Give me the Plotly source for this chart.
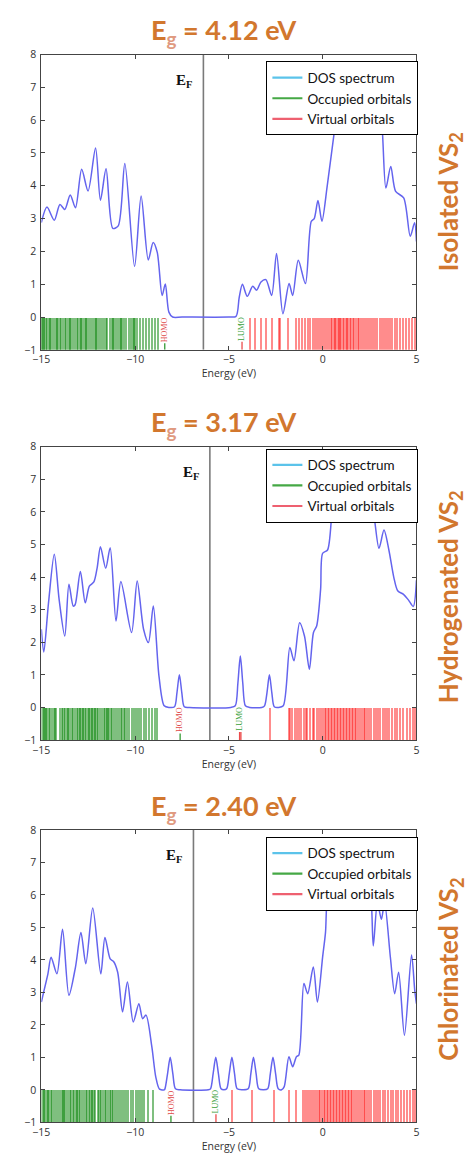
import plotly.graph_objects as go

# ---------------- data ----------------
titles = ["4.12", "3.17", "2.40"]
side_labels = ["Isolated VS<sub>2</sub>", "Hydrogenated VS<sub>2</sub>", "Chlorinated VS<sub>2</sub>"]
homo = [-8.42, -7.60, -8.09]
lumo = [-4.30, -4.43, -5.69]
lumo_extra = [[], [-4.36], []]

# DOS spectra (energy in eV, DOS)
dos_iso_e = [-15.00, -14.70, -14.31, -14.01, -13.75, -13.46, -13.18, -12.85, -12.51, -12.11,
             -11.85, -11.55, -11.19, -10.90, -10.55, -10.03, -9.68, -9.30, -9.04, -8.82,
             -8.56, -8.39, -8.20, -8.00, -7.50, -5.00, -4.62, -4.45, -4.28, -4.02,
             -3.73, -3.52, -3.29, -3.03, -2.72, -2.46, -2.12, -1.79, -1.60, -1.30,
             -0.92, -0.61, -0.45, -0.25, -0.04, 0.25, 0.69, 0.90, 1.20, 1.50,
             1.80, 1.97, 2.10, 2.25, 2.40, 2.55, 2.80, 3.10, 3.37, 3.63,
             3.89, 4.32, 4.67, 4.90, 5.00]
dos_iso_d = [2.88, 3.35, 2.95, 3.43, 3.28, 3.72, 3.33, 4.50, 3.84, 5.15,
             3.56, 4.52, 2.70, 2.78, 4.68, 1.54, 3.69, 1.74, 2.27, 1.97,
             0.66, 1.01, 0.15, 0.00, 0.00, 0.00, 0.02, 0.60, 1.00, 0.63,
             0.94, 0.82, 1.07, 1.14, 0.66, 1.94, 0.10, 1.02, 0.66, 1.73,
             1.02, 2.91, 3.00, 3.55, 2.92, 4.03, 5.95, 6.80, 7.30, 6.90,
             6.60, 6.00, 5.65, 5.90, 5.60, 6.10, 6.90, 6.30, 3.93, 4.59,
             3.83, 3.63, 2.46, 2.87, 2.30]

dos_hyd_e = [-15.00, -14.87, -14.62, -14.31, -14.05, -13.75, -13.53, -13.30, -13.20, -12.92,
             -12.66, -12.44, -12.20, -12.02, -11.85, -11.57, -11.33, -11.02, -10.76, -10.19,
             -9.89, -9.55, -9.29, -9.03, -8.73, -8.45, -8.20, -7.90, -7.77, -7.64,
             -7.51, -7.38, -7.10, -4.90, -4.66, -4.52, -4.39, -4.26, -4.12, -3.90,
             -3.25, -3.10, -2.97, -2.84, -2.71, -2.58, -2.35, -2.10, -1.75, -1.53,
             -1.23, -0.97, -0.71, -0.49, -0.32, -0.11, 0.00, 0.26, 0.50, 0.65,
             0.84, 1.02, 1.19, 1.40, 1.70, 1.97, 2.20, 2.45, 2.66, 3.00,
             3.27, 3.53, 3.79, 4.00, 4.31, 4.57, 4.83, 5.00]
dos_hyd_d = [2.40, 1.70, 3.20, 4.70, 3.30, 2.19, 3.78, 3.11, 3.15, 4.17,
             3.21, 3.72, 3.85, 4.30, 4.93, 4.27, 4.90, 2.65, 3.86, 2.30,
             3.88, 2.40, 1.99, 3.11, 0.97, 0.05, 0.00, 0.02, 0.45, 1.00,
             0.45, 0.02, 0.00, 0.00, 0.05, 0.75, 1.58, 0.75, 0.05, 0.00,
             0.00, 0.05, 0.45, 1.00, 0.45, 0.02, 0.00, 0.05, 1.84, 1.43,
             2.60, 2.19, 1.17, 2.30, 2.50, 3.62, 4.73, 4.83, 5.95, 6.30,
             5.69, 6.05, 5.84, 6.40, 6.60, 5.90, 6.20, 5.74, 6.05, 4.88,
             5.44, 4.83, 4.00, 3.58, 3.47, 3.30, 3.10, 3.90]

dos_chl_e = [-15.00, -14.88, -14.65, -14.48, -14.17, -13.87, -13.53, -13.18, -12.89, -12.63,
             -12.26, -11.83, -11.61, -11.33, -11.15, -10.93, -10.67, -10.41, -10.10, -9.80,
             -9.60, -9.42, -9.11, -8.90, -8.70, -8.45, -8.41, -8.27, -8.13, -7.99,
             -7.85, -7.60, -6.10, -5.98, -5.84, -5.70, -5.56, -5.42, -5.27, -5.12,
             -4.98, -4.84, -4.70, -4.56, -4.30, -3.97, -3.83, -3.69, -3.55, -3.41,
             -3.15, -2.93, -2.79, -2.65, -2.51, -2.37, -2.19, -2.05, -1.80, -1.60,
             -1.40, -1.27, -1.00, -0.80, -0.50, -0.28, 0.00, 0.15, 0.27, 0.50,
             0.70, 0.85, 1.20, 1.60, 2.00, 2.40, 2.58, 2.70, 2.92, 3.13,
             3.30, 3.61, 3.84, 4.05, 4.36, 4.74, 4.91, 5.00]
dos_chl_d = [2.70, 3.00, 3.57, 4.08, 3.57, 4.94, 2.91, 3.78, 4.84, 3.88,
             5.60, 3.57, 4.69, 4.03, 3.95, 3.62, 2.40, 3.32, 2.09, 2.65,
             2.19, 2.30, 1.33, 0.40, 0.02, 0.00, 0.03, 0.50, 1.00, 0.50,
             0.03, 0.00, 0.00, 0.03, 0.50, 1.00, 0.50, 0.03, 0.00, 0.03,
             0.50, 1.00, 0.50, 0.03, 0.00, 0.03, 0.50, 1.00, 0.50, 0.03,
             0.00, 0.03, 0.50, 1.00, 0.50, 0.03, 0.00, 0.10, 1.02, 0.71,
             1.02, 1.07, 3.27, 2.96, 3.78, 2.70, 4.10, 4.84, 5.96, 6.20,
             5.65, 6.10, 6.80, 7.00, 6.60, 6.40, 5.90, 4.43, 5.76, 5.25,
             5.76, 4.08, 2.96, 3.62, 1.68, 4.15, 3.06, 2.65]

# Orbital energies (eV)
occ_iso = [-14.97, -14.92, -14.84, -14.76, -14.70, -14.58, -14.50, -14.44, -14.33, -14.22,
           -14.16, -14.08, -13.98, -13.93, -13.85, -13.72, -13.64, -13.52, -13.46, -13.40,
           -13.30, -13.18, -13.10, -13.02, -12.94, -12.86, -12.82, -12.70, -12.62, -12.58,
           -12.48, -12.36, -12.25, -12.14, -12.08, -12.02, -11.92, -11.80, -11.70, -11.56,
           -11.46, -11.34, -11.22, -11.17, -11.12, -11.02, -10.90, -10.80, -10.72, -10.68,
           -10.55, -10.45, -10.32, -10.20, -10.08, -10.02, -9.98, -9.86, -9.70, -9.58,
           -9.42, -9.22, -9.06, -8.90, -8.74]
vir_iso = [-3.85, -3.57, -3.28, -3.00, -2.70, -2.32, -2.28, -1.82, -1.42, -1.22,
           -1.06, -0.92, -0.78, -0.64, -0.52, -0.40, -0.28, -0.16, -0.05, 0.06,
           0.16, 0.26, 0.36, 0.44, 0.52, 0.60, 0.68, 0.74, 0.82, 0.88,
           0.96, 1.02, 1.10, 1.16, 1.24, 1.30, 1.38, 1.46, 1.54, 1.62,
           1.70, 1.80, 1.90, 1.98, 2.08, 2.18, 2.28, 2.38, 2.50, 2.60,
           2.72, 2.82, 2.94, 3.06, 3.16, 3.28, 3.40, 3.50, 3.62, 3.72,
           3.86, 4.00, 4.14, 4.30, 4.46, 4.62, 4.78, 4.92]

occ_hyd = [-14.92, -14.86, -14.80, -14.72, -14.66, -14.58, -14.50, -14.42, -14.30, -14.24,
           -14.18, -13.98, -13.90, -13.80, -13.70, -13.62, -13.55, -13.48, -13.36, -13.28,
           -13.18, -13.10, -13.00, -12.92, -12.84, -12.76, -12.68, -12.60, -12.50, -12.44,
           -12.36, -12.28, -12.20, -12.12, -12.04, -11.96, -11.86, -11.76, -11.66, -11.56,
           -11.50, -11.44, -11.36, -11.28, -11.20, -11.08, -10.96, -10.82, -10.74, -10.66,
           -10.58, -10.50, -10.42, -10.30, -10.16, -10.02, -9.92, -9.80, -9.66, -9.52,
           -9.38, -9.24, -9.10, -8.94, -8.80]
vir_hyd = [-2.78, -1.80, -1.70, -1.60, -1.48, -1.36, -1.24, -1.12, -0.98, -0.86,
           -0.82, -0.66, -0.52, -0.42, -0.30, -0.18, -0.08, 0.02, 0.12, 0.22,
           0.30, 0.38, 0.46, 0.54, 0.62, 0.70, 0.78, 0.84, 0.92, 1.00,
           1.08, 1.16, 1.24, 1.32, 1.40, 1.48, 1.56, 1.64, 1.72, 1.80,
           1.90, 2.00, 2.10, 2.20, 2.30, 2.40, 2.50, 2.62, 2.74, 2.86,
           2.98, 3.10, 3.22, 3.34, 3.46, 3.58, 3.72, 3.86, 4.00, 4.16,
           4.32, 4.50, 4.66, 4.82, 4.96]

occ_chl = [-14.92, -14.86, -14.78, -14.70, -14.62, -14.56, -14.48, -14.40, -14.30, -14.20,
           -14.10, -13.98, -13.90, -13.82, -13.76, -13.70, -13.60, -13.48, -13.40, -13.30,
           -13.22, -13.14, -13.08, -13.00, -12.92, -12.80, -12.70, -12.62, -12.54, -12.44,
           -12.36, -12.28, -12.20, -12.10, -11.98, -11.88, -11.80, -11.70, -11.60, -11.52,
           -11.44, -11.34, -11.24, -11.14, -11.04, -10.94, -10.84, -10.72, -10.60, -10.48,
           -10.36, -10.22, -10.08, -9.94, -9.80, -9.64, -9.50, -9.27, -9.01]
vir_chl = [-4.80, -3.73, -2.60, -1.79, -1.39, -1.04, -0.94, -0.84, -0.72, -0.62,
           -0.50, -0.40, -0.30, -0.20, -0.10, 0.00, 0.08, 0.16, 0.24, 0.32,
           0.40, 0.48, 0.56, 0.64, 0.72, 0.80, 0.88, 0.96, 1.04, 1.12,
           1.20, 1.28, 1.36, 1.44, 1.52, 1.60, 1.70, 1.80, 1.90, 2.00,
           2.10, 2.20, 2.30, 2.40, 2.50, 2.62, 2.74, 2.86, 2.98, 3.10,
           3.22, 3.36, 3.50, 3.64, 3.78, 3.92, 4.06, 4.22, 4.38, 4.54,
           4.70, 4.86, 4.96]

x_ticks = [-15, -10, -5, 0, 5]
y_ticks = [-1, 0, 1, 2, 3, 4, 5, 6, 7, 8]
legend_names = ["DOS spectrum", "Occupied orbitals", "Virtual orbitals"]

dos_e = [dos_iso_e, dos_hyd_e, dos_chl_e]
dos_d = [dos_iso_d, dos_hyd_d, dos_chl_d]
occ = [occ_iso, occ_hyd, occ_chl]
vir = [vir_iso, vir_hyd, vir_chl]

# ---------------- styling ----------------
# The page body has an 8px default margin, so the figure is sized to fit the window.
OFF = 8
W, H = 474 - OFF, 1162 - 2 * OFF


def px(vx):
    return (vx - OFF) / W


def py(vy):
    return 1 - (vy - OFF) / H


ORANGE = "#D2772E"
SUB_COL = "#E09A80"
X_DOM = [px(33), px(418)]
panel_px = [(48, 347), (445, 742), (833, 1129)]   # window rows of plot tops / bottoms
title_px = [25, 422, 810]
side_px = [197, 597, 974]
legend_top_px = [55, 447, 840]
legend_cols = ["#5BC3EA", "#45A845", "#EE6070"]

fig = go.Figure()

for i in range(3):
    n = "" if i == 0 else str(i + 1)
    xa, ya = "x" + n, "y" + n
    lg = "legend" + n
    ef = (homo[i] + lumo[i]) / 2

    fig.add_trace(go.Bar(x=occ[i], y=[1] * len(occ[i]), base=-1, width=0.11,
                         marker=dict(color="rgba(0,128,0,0.5)", line=dict(width=0)),
                         xaxis=xa, yaxis=ya, showlegend=False, hoverinfo="skip"))
    fig.add_trace(go.Bar(x=vir[i], y=[1] * len(vir[i]), base=-1, width=0.11,
                         marker=dict(color="rgba(255,0,0,0.45)", line=dict(width=0)),
                         xaxis=xa, yaxis=ya, showlegend=False, hoverinfo="skip"))
    fig.add_trace(go.Scatter(x=[homo[i], homo[i]], y=[-1, -0.8], mode="lines",
                             line=dict(color="rgba(0,128,0,0.8)", width=1.3),
                             xaxis=xa, yaxis=ya, showlegend=False, hoverinfo="skip"))
    for lv in [lumo[i]] + lumo_extra[i]:
        fig.add_trace(go.Scatter(x=[lv, lv], y=[-1, -0.75], mode="lines",
                                 line=dict(color="rgba(230,30,30,0.8)", width=1.3),
                                 xaxis=xa, yaxis=ya, showlegend=False, hoverinfo="skip"))
    fig.add_trace(go.Scatter(x=[ef, ef], y=[-1, 8], mode="lines",
                             line=dict(color="#7a7a7a", width=1.6),
                             xaxis=xa, yaxis=ya, showlegend=False, hoverinfo="skip"))
    fig.add_trace(go.Scatter(x=dos_e[i], y=dos_d[i], mode="lines",
                             line=dict(color="rgb(100,100,238)", width=1.5, shape="spline", smoothing=0.8),
                             xaxis=xa, yaxis=ya, showlegend=False, hoverinfo="skip"))
    for name, col in zip(legend_names, legend_cols):
        fig.add_trace(go.Scatter(x=[None], y=[None], mode="lines", name=name,
                                 line=dict(color=col, width=2.2),
                                 xaxis=xa, yaxis=ya, legend=lg, showlegend=True))

    top, bot = panel_px[i]
    axis_common = dict(showline=True, linecolor="#444", linewidth=1, mirror="ticks",
                       ticks="inside", ticklen=4, tickcolor="#444", showgrid=False,
                       zeroline=False, tickfont=dict(family="Open Sans", size=10.5, color="#333"))
    fig.update_layout({
        "xaxis" + n: dict(domain=X_DOM, range=[-15, 5], tickvals=x_ticks, anchor=ya,
                          title=dict(text="Energy (eV)", standoff=4,
                                     font=dict(family="Open Sans", size=10.5, color="#333")),
                          **axis_common),
        "yaxis" + n: dict(domain=[py(bot), py(top)], range=[-1, 8], tickvals=y_ticks,
                          anchor=xa, ticklabelstandoff=2, **axis_common),
        lg: dict(x=px(420), xanchor="right", y=py(legend_top_px[i]), yanchor="top",
                 bgcolor="white", bordercolor="black", borderwidth=1,
                 font=dict(family="Lato", size=13.5, color="#111"),
                 itemwidth=30, tracegroupgap=0),
    })

    fig.add_annotation(text=f"E<sub><span style='color:{SUB_COL}'>g</span></sub> = {titles[i]} eV",
                       xref="paper", yref="paper",
                       x=px(220), y=py(title_px[i]), xanchor="center", yanchor="middle",
                       showarrow=False, font=dict(family="Lato", size=27, color=ORANGE, weight="bold"))
    fig.add_annotation(text=side_labels[i], xref="paper", yref="paper",
                       x=px(452), y=py(side_px[i]), xanchor="center", yanchor="middle",
                       textangle=-90, showarrow=False,
                       font=dict(family="Lato", size=26, color=ORANGE, weight="bold"))
    fig.add_annotation(text="E<sub>F</sub>", xref=xa, yref=ya, x=ef, y=7.2,
                       xanchor="right", yanchor="middle", xshift=-9, showarrow=False,
                       font=dict(family="Liberation Serif", size=15, color="#111", weight="bold"))
    fig.add_annotation(text="HOMO", xref=xa, yref=ya, x=homo[i], y=-0.38, textangle=-90,
                       showarrow=False, font=dict(family="Liberation Serif", size=8, color="#E04848"))
    fig.add_annotation(text="LUMO", xref=xa, yref=ya, x=lumo[i], y=-0.36, textangle=-90,
                       showarrow=False, font=dict(family="Liberation Serif", size=8, color="#3AA03A"))

fig.update_layout(width=W, height=H, margin=dict(l=0, r=0, t=0, b=0),
                  paper_bgcolor="white", plot_bgcolor="white", barmode="overlay",
                  bargap=0, showlegend=True)

fig.write_html("out.html")
